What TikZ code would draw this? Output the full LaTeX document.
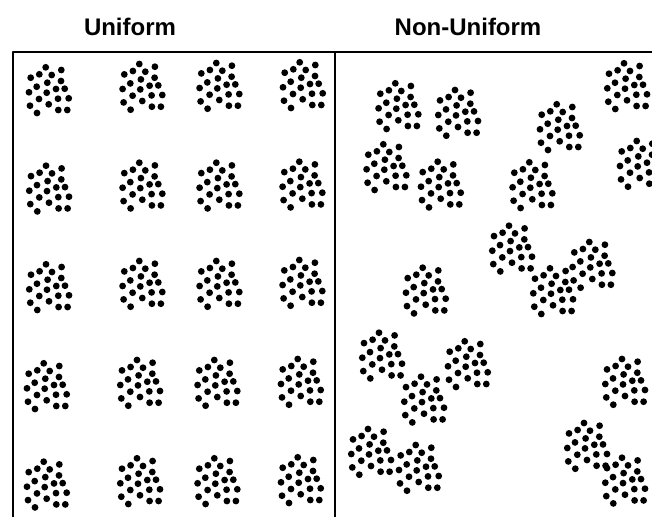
\documentclass[tikz,border=0pt]{standalone}
\usepackage{fontspec}
\setmainfont{Liberation Sans}

\begin{document}
\begin{tikzpicture}[x=1pt, y=-1pt,
  title/.style={font=\bfseries\fontsize{24}{28}\selectfont},
  clump/.pic={
    \foreach \dx/\dy in {-3.3/-22.7, 12.3/-20, -9.7/-15.7, 2.7/-15, -18.3/-12.3,
                         12/-9, -1.7/-7.3, -12.3/-3.3, 7/-1, 15.7/-1.3,
                         -20/2.3, -2.3/2.7, -10/9, 9/8.7, 19.7/8.3,
                         -19/15.7, -0.3/14.3, -12/23, 9.3/20, 18.3/20}
      \fill (\dx,\dy) circle (3.4pt);
  }]

  \useasboundingbox (0,0) rectangle (652,517);
  \clip (0,0) rectangle (652,517);

  \node[title] (uni) at (130,27) {Uniform};
  \node[title] (nonuni) at (468,27) {Non-Uniform};

  % frame and divider
  \draw[line width=2.7pt, line join=round] (13,517) -- (13,52) -- (652,52);
  \draw[line width=1.3pt] (335,52) -- (335,517);

  % uniform: 4 x 5 grid
  \foreach \x/\y in {49/90, 49.3/188.4, 49.3/287, 47/386, 47/484.4,
                     142.6/86.7, 142.6/185.4, 142.6/283.7, 140.3/382.7, 140.3/481,
                     219.6/85.7, 219.6/185.4, 219.6/283.7, 217.6/382.7, 217.6/481,
                     303/85, 302.6/184.4, 302.6/282.7, 301/381.7, 301/480}
    \pic at (\x,\y) {clump};

  % non-uniform: scattered
  \foreach \x/\y in {398.6/106, 458.3/112.7, 627.3/86, 560/127,
                     386.6/167, 441/184.4, 532.6/185, 640/163.7,
                     512.3/248.4, 426/290.4, 553.3/291, 592.6/264.7,
                     382.3/355.4, 468/364, 424.3/399.4, 625.3/381.7,
                     371.3/451.7, 419/467.7, 587.3/445.7, 625.3/480.4}
    \pic at (\x,\y) {clump};

\end{tikzpicture}
\end{document}
